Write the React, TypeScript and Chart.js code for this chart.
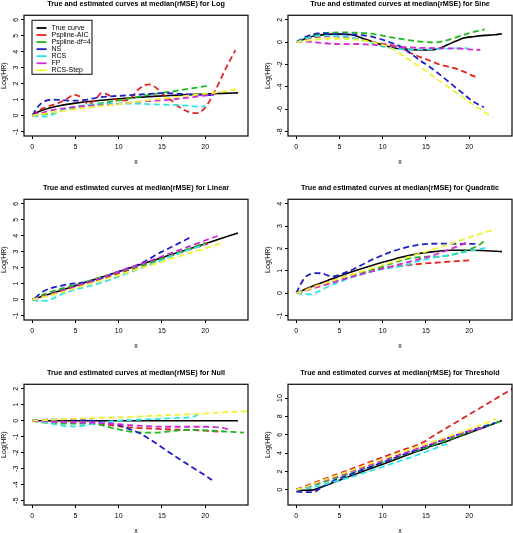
import React, { useEffect, useRef } from "react";
import { Chart, registerables } from "chart.js";

Chart.register(...registerables);

type Pt = [number, number];

const FONT = "'Liberation Sans', Arial, Helvetica, sans-serif";

const SERIES_LABELS = ["True curve", "Pspline-AIC", "Pspline-df=4", "NS", "RCS", "FP", "RCS-Step"];
const SERIES_COLORS = ["#000000", "#e32222", "#1fb81f", "#1f1fc4", "#2ee6e6", "#d22ad2", "#f2f230"];

const X_TICKS = [0, 5, 10, 15, 20];
const X_MIN = -0.96;
const X_MAX = 24.96;

const LOG_Y_TICKS = [-1, 0, 1, 2, 3, 4, 5, 6];
const SINE_Y_TICKS = [-8, -6, -4, -2, 0, 2];
const LINEAR_Y_TICKS = [-1, 0, 1, 2, 3, 4, 5, 6];
const QUAD_Y_TICKS = [-1, 0, 1, 2, 3, 4];
const NULL_Y_TICKS = [-5, -4, -3, -2, -1, 0, 1, 2];
const THRESH_Y_TICKS = [0, 2, 4, 6, 8, 10];

// ---------- Log ----------
const LOG_TRUE: Pt[] = [[0, 0], [0.5, 0.18], [1, 0.3], [2, 0.48], [3, 0.6], [4, 0.7], [5, 0.78], [6, 0.85], [8, 0.96], [10, 1.05], [12, 1.13], [14, 1.2], [16, 1.26], [18, 1.31], [20, 1.35], [22, 1.39], [23.8, 1.42]];
const LOG_PSAIC: Pt[] = [[0, 0], [1, 0.4], [2, 0.6], [3, 0.78], [4, 1.05], [4.8, 1.3], [5.5, 1.2], [6.5, 0.72], [7.3, 1.0], [8, 1.4], [8.8, 1.3], [9.6, 1.0], [10.5, 0.95], [11.3, 1.05], [12.2, 1.6], [13, 1.9], [13.6, 1.95], [14.3, 1.75], [15.1, 1.34], [16.1, 0.95], [17, 0.53], [18, 0.25], [19, 0.15], [20, 0.5], [21.2, 1.6], [22.3, 2.85], [23.5, 4.1]];
const LOG_PSDF4: Pt[] = [[0, 0], [1, 0.05], [2, 0.12], [3, 0.25], [4, 0.38], [5, 0.5], [6, 0.6], [8, 0.78], [10, 0.95], [12, 1.15], [13.6, 1.3], [15, 1.42], [17, 1.58], [19, 1.75], [20.6, 1.88]];
const LOG_NS: Pt[] = [[0, 0], [0.5, 0.45], [1, 0.75], [1.7, 0.95], [2.5, 1.0], [3.5, 0.97], [4.5, 0.93], [5.5, 0.93], [6.5, 1.02], [7.5, 1.13], [9, 1.2], [10.5, 1.25], [12, 1.3], [13.5, 1.35], [15, 1.4], [16.5, 1.38], [18, 1.33], [19.5, 1.3], [21, 1.28]];
const LOG_RCS: Pt[] = [[0, 0], [1, -0.05], [1.8, -0.05], [2.5, 0.1], [3.5, 0.35], [4.5, 0.5], [5.5, 0.6], [7, 0.68], [9, 0.74], [11, 0.75], [12.5, 0.74], [14, 0.7], [16, 0.67], [18, 0.62], [19.3, 0.55], [20, 0.6]];
const LOG_FP: Pt[] = [[0, 0], [1, 0.15], [2, 0.3], [3, 0.4], [4, 0.48], [5, 0.55], [7, 0.62], [9, 0.68], [11, 0.8], [12.5, 0.87], [14, 0.92], [16, 1.0], [18, 1.12], [20, 1.25], [21, 1.3]];
const LOG_STEP: Pt[] = [[0, 0], [1, 0.08], [2, 0.17], [3, 0.25], [4, 0.33], [5, 0.4], [6, 0.47], [8, 0.6], [10, 0.72], [12, 0.86], [14, 1.0], [16, 1.12], [18, 1.25], [20, 1.37], [22, 1.5], [23.9, 1.66]];

// ---------- Sine ----------
const SINE_TRUE: Pt[] = [[0, 0], [1, 0.3], [1.8, 0.5], [3, 0.65], [4.1, 0.72], [5.2, 0.72], [6.4, 0.66], [7.5, 0.4], [8.7, 0.06], [9.7, -0.18], [10.6, -0.39], [11.5, -0.55], [12.5, -0.63], [13.5, -0.67], [14.5, -0.69], [15.5, -0.7], [16.3, -0.62], [17.5, -0.24], [18.5, 0.1], [19.4, 0.36], [20.6, 0.5], [21.8, 0.6], [22.9, 0.66], [23.8, 0.75]];
const SINE_PSAIC: Pt[] = [[0, 0], [1, 0.25], [2, 0.42], [3, 0.5], [4, 0.52], [5, 0.5], [6, 0.42], [7, 0.3], [8, 0.15], [9, -0.02], [10, -0.15], [11.4, -0.35], [12.5, -0.7], [13.7, -1.14], [15.2, -1.58], [16.7, -2.03], [18.3, -2.33], [19.8, -2.78], [20.8, -3.14]];
const SINE_PSDF4: Pt[] = [[0, 0], [1, 0.4], [2, 0.65], [3, 0.8], [4, 0.85], [5, 0.87], [6, 0.86], [7, 0.84], [8, 0.8], [9, 0.72], [10, 0.58], [11, 0.42], [12, 0.3], [13, 0.18], [14, 0.08], [15, 0.0], [16, -0.03], [17, 0.08], [18, 0.3], [19, 0.55], [20, 0.8], [21, 1.0], [21.8, 1.15]];
const SINE_NS: Pt[] = [[0, 0], [0.8, 0.35], [1.6, 0.62], [2.5, 0.78], [3.5, 0.77], [4.5, 0.72], [5.5, 0.7], [6.5, 0.68], [7.5, 0.63], [8.5, 0.52], [9.5, 0.33], [10.6, 0.05], [11.5, -0.2], [12.2, -0.45], [13.2, -1.0], [14.5, -1.73], [15.5, -2.25], [16.4, -2.78], [17.4, -3.4], [18.3, -3.98], [19.3, -4.6], [20.2, -5.17], [21, -5.55], [21.7, -5.83]];
const SINE_RCS: Pt[] = [[0, 0], [1, 0.3], [2, 0.5], [3, 0.58], [4, 0.58], [5, 0.52], [6, 0.45], [7, 0.3], [8, 0.1], [9, -0.15], [10, -0.4], [11, -0.55], [12, -0.62], [13, -0.65], [14, -0.65], [15, -0.65], [16, -0.63], [17, -0.6], [18, -0.58], [19, -0.55], [19.8, -0.55]];
const SINE_FP: Pt[] = [[0, 0], [1, 0.05], [2, 0.0], [3, -0.08], [4, -0.15], [5, -0.18], [6, -0.18], [7, -0.17], [8, -0.2], [9, -0.25], [10, -0.3], [11, -0.36], [12, -0.42], [13, -0.47], [14, -0.5], [15, -0.52], [16, -0.54], [17, -0.55], [18, -0.56], [19, -0.58], [20, -0.65], [21.3, -0.7]];
const SINE_STEP: Pt[] = [[0, 0], [1, 0.1], [2, 0.2], [3, 0.28], [4, 0.3], [5, 0.3], [6, 0.28], [7, 0.2], [8, 0.1], [9, -0.05], [10, -0.25], [10.6, -0.39], [11.5, -0.8], [12.5, -1.29], [13.5, -1.8], [14.5, -2.33], [15.5, -2.85], [16.4, -3.38], [17.4, -3.9], [18.3, -4.42], [19.3, -4.95], [20.2, -5.47], [21.5, -6.1], [22.7, -6.73]];

// ---------- Linear ----------
const LIN_TRUE: Pt[] = [[0, 0], [4, 0.7], [8, 1.4], [12, 2.1], [16, 2.8], [20, 3.5], [23.8, 4.17]];
const LIN_PSAIC: Pt[] = [[0, 0], [2, 0.3], [4, 0.62], [6, 0.95], [8, 1.3], [10, 1.65], [12, 2.0], [14, 2.35], [16, 2.72], [18, 3.1], [20.3, 3.5]];
const LIN_PSDF4: Pt[] = [[0, 0], [1, 0.25], [2, 0.45], [3, 0.62], [4, 0.78], [5, 0.92], [6, 1.08], [7, 1.25], [8, 1.42], [10, 1.72], [12, 2.05], [14, 2.38], [16, 2.75], [18, 3.15], [20, 3.55]];
const LIN_NS: Pt[] = [[0.3, 0.1], [1.3, 0.52], [2.2, 0.72], [3.2, 0.85], [4.3, 0.97], [5.5, 1.04], [6.6, 1.12], [7.8, 1.28], [9, 1.55], [10.1, 1.77], [11.3, 2.0], [12.4, 2.23], [13.4, 2.5], [14.3, 2.8], [15.4, 3.1], [16.5, 3.4], [17.5, 3.67], [18.3, 3.9]];
const LIN_RCS: Pt[] = [[0, 0], [0.8, -0.08], [1.6, -0.08], [2.5, 0.1], [3.5, 0.35], [4.5, 0.55], [5.5, 0.7], [6.5, 0.83], [7.5, 0.98], [8.5, 1.15], [10, 1.45], [12, 1.85], [14, 2.25], [16, 2.7], [18, 3.1], [20, 3.45]];
const LIN_FP: Pt[] = [[0, 0], [2, 0.3], [4, 0.65], [6, 1.0], [8, 1.35], [10, 1.75], [12, 2.12], [14, 2.5], [16, 2.9], [18, 3.3], [20, 3.7], [21.8, 4.05]];
const LIN_STEP: Pt[] = [[0, 0], [2, 0.25], [4, 0.55], [6, 0.88], [8, 1.2], [10, 1.53], [12, 1.87], [14, 2.2], [16, 2.55], [18, 2.88], [20, 3.2], [22.1, 3.55]];

// ---------- Quadratic ----------
const QUAD_TRUE: Pt[] = [[0, 0], [2, 0.33], [4, 0.62], [6, 0.9], [8, 1.15], [10, 1.38], [12, 1.6], [14, 1.76], [16, 1.86], [18, 1.92], [20, 1.92], [22, 1.9], [23.8, 1.86]];
const QUAD_PSAIC: Pt[] = [[0, 0], [2, 0.3], [4, 0.55], [6, 0.78], [8, 0.98], [10, 1.12], [12, 1.22], [14, 1.3], [16, 1.36], [18, 1.42], [20.2, 1.47]];
const QUAD_PSDF4: Pt[] = [[0, 0], [2, 0.25], [4, 0.5], [6, 0.72], [8, 0.95], [10, 1.2], [12, 1.45], [13, 1.55], [14, 1.6], [15, 1.63], [16, 1.63], [17, 1.65], [18, 1.72], [19, 1.82], [20, 1.95], [21, 2.12], [21.9, 2.37]];
const QUAD_NS: Pt[] = [[0, 0], [0.5, 0.4], [1, 0.7], [1.6, 0.85], [2.2, 0.9], [3, 0.88], [3.6, 0.8], [4.1, 0.75], [4.8, 0.8], [5.5, 0.9], [6.5, 1.05], [7.5, 1.25], [8.5, 1.45], [9.5, 1.62], [10.5, 1.78], [11.5, 1.92], [12.5, 2.03], [13.5, 2.12], [14.5, 2.18], [15.5, 2.21], [16.5, 2.22], [17.5, 2.22], [18.5, 2.21], [19.5, 2.21], [21, 2.2]];
const QUAD_RCS: Pt[] = [[0, 0], [0.8, -0.03], [1.6, -0.05], [2.4, 0.05], [3.2, 0.2], [4, 0.35], [5, 0.5], [6, 0.65], [7, 0.78], [8, 0.9], [9, 1.0], [10, 1.08], [11, 1.13], [12, 1.2], [13, 1.3], [14, 1.42], [15, 1.52], [16, 1.6], [17, 1.66], [18, 1.72], [19, 1.8], [20, 1.88], [21, 1.95], [22.2, 2.05]];
const QUAD_FP: Pt[] = [[0, 0], [2, 0.22], [4, 0.45], [6, 0.68], [8, 0.9], [10, 1.1], [12, 1.3], [14, 1.5], [15, 1.6], [16, 1.72], [17, 1.85], [18, 2.0], [19, 2.15], [19.6, 2.25]];
const QUAD_STEP: Pt[] = [[0, 0], [1, 0.12], [2, 0.27], [3, 0.4], [4, 0.53], [5, 0.66], [6, 0.78], [7, 0.9], [8, 1.02], [9, 1.14], [10, 1.26], [11, 1.38], [12, 1.5], [13, 1.62], [14, 1.74], [15, 1.86], [16, 1.98], [17, 2.1], [18, 2.23], [19, 2.36], [20, 2.5], [21, 2.62], [22, 2.74], [23.1, 2.85]];

// ---------- Null ----------
const NULL_TRUE: Pt[] = [[0, 0], [8, 0], [16, 0], [23.8, 0]];
const NULL_PSAIC: Pt[] = [[0, 0], [2, -0.05], [4, -0.1], [6, -0.15], [8, -0.2], [10, -0.35], [12, -0.45], [14, -0.5], [16, -0.55], [18, -0.58], [20, -0.62], [21, -0.66], [22, -0.7]];
const NULL_PSDF4: Pt[] = [[0, 0], [1, -0.1], [2, -0.15], [3, -0.17], [4, -0.18], [5, -0.18], [6, -0.18], [7, -0.2], [8, -0.28], [9, -0.42], [10, -0.55], [11, -0.65], [12, -0.72], [13, -0.75], [14, -0.75], [15, -0.72], [16, -0.66], [17, -0.6], [18, -0.57], [19, -0.58], [20, -0.6], [21, -0.63], [22, -0.66], [23, -0.7], [24.5, -0.75]];
const NULL_NS: Pt[] = [[0, 0], [1, 0.05], [3, 0.07], [5, 0.05], [7, 0.0], [8, -0.06], [9, -0.15], [10, -0.27], [11, -0.48], [12.4, -0.78], [13.7, -1.2], [15.1, -1.71], [16.4, -2.18], [17.7, -2.64], [19.2, -3.15], [20.8, -3.71]];
const NULL_RCS: Pt[] = [[0, 0], [1, -0.05], [2, -0.15], [3, -0.27], [4, -0.35], [5, -0.35], [6, -0.3], [7, -0.2], [8, -0.12], [9, -0.05], [10, 0.0], [11, 0.03], [12, 0.06], [13, 0.08], [14, 0.1], [15, 0.12], [16, 0.15], [17, 0.18], [18, 0.2], [18.8, 0.28], [19.3, 0.42]];
const NULL_FP: Pt[] = [[0, 0], [2, -0.05], [4, -0.1], [6, -0.12], [8, -0.15], [10, -0.22], [12, -0.3], [14, -0.36], [16, -0.38], [18, -0.38], [20, -0.38], [21, -0.4], [22, -0.45], [22.8, -0.55]];
const NULL_STEP: Pt[] = [[0, 0], [2, 0.05], [4, 0.1], [6, 0.14], [8, 0.18], [10, 0.21], [12, 0.25], [14, 0.3], [16, 0.35], [18, 0.4], [20, 0.45], [22, 0.52], [24, 0.57], [25.5, 0.6]];

// ---------- Threshold ----------
const THR_TRUE: Pt[] = [[0, -0.05], [1, -0.05], [2, 0.0], [3, 0.35], [4, 0.7], [5, 1.05], [6, 1.4], [8, 2.1], [10, 2.8], [12, 3.5], [14, 4.2], [15, 4.5], [15.5, 4.75], [16, 4.85], [17, 5.15], [18, 5.5], [20, 6.2], [22, 6.9], [23.8, 7.55]];
const THR_PSAIC: Pt[] = [[0, 0.05], [2, 0.75], [4, 1.45], [6, 2.15], [8, 2.85], [10, 3.55], [12, 4.25], [14.5, 5.1], [16, 5.97], [18, 7.09], [20, 8.21], [22, 9.33], [24, 10.45], [25, 11.0]];
const THR_PSDF4: Pt[] = [[0, 0], [2, 0.5], [4, 1.1], [6, 1.7], [8, 2.35], [10, 3.0], [12, 3.65], [14, 4.3], [16, 4.95], [18, 5.6], [20, 6.3], [22, 6.95], [23.6, 7.45]];
const THR_NS: Pt[] = [[0, -0.2], [1, -0.25], [2, -0.25], [2.5, 0.0], [3, 0.3], [4, 0.85], [5, 1.25], [6, 1.6], [8, 2.3], [10, 3.0], [12, 3.7], [14, 4.4], [16, 5.1], [18, 5.8], [20, 6.4], [22, 7.0], [23, 7.3]];
const THR_RCS: Pt[] = [[0, 0], [2, 0.3], [4, 0.8], [6, 1.3], [8, 1.9], [10, 2.5], [12, 3.15], [14, 3.8], [16, 4.5], [17.9, 5.2]];
const THR_FP: Pt[] = [[0, 0], [2, 0.6], [4, 1.25], [6, 1.9], [8, 2.55], [10, 3.2], [12, 3.85], [14, 4.5], [16, 5.15], [18, 5.8], [20, 6.4], [21.7, 6.75]];
const THR_STEP: Pt[] = [[0, 0], [1, 0.3], [2, 0.65], [4, 1.35], [6, 2.0], [8, 2.7], [10, 3.35], [12, 4.05], [14, 4.7], [16, 5.3], [18, 5.95], [20, 6.6], [22, 7.3], [23.1, 7.75]];

interface PanelCfg {
  title: string;
  series: Pt[][];
  yMin: number;
  yMax: number;
  yTicks: number[];
  left: number;
  top: number;
  width: number;
  height: number;
  padRight: number;
  legend: boolean;
  yPad: number;
}

const PANELS: PanelCfg[] = [
  { title: "True and estimated curves at median(rMSE) for Log", series: [LOG_TRUE, LOG_PSAIC, LOG_PSDF4, LOG_NS, LOG_RCS, LOG_FP, LOG_STEP], yMin: -1.28, yMax: 6.28, yTicks: LOG_Y_TICKS, left: 0, top: 0, width: 256, height: 184, padRight: 8, legend: true, yPad: 1.9 },
  { title: "True and estimated curves at median(rMSE) for Sine", series: [SINE_TRUE, SINE_PSAIC, SINE_PSDF4, SINE_NS, SINE_RCS, SINE_FP, SINE_STEP], yMin: -8.4, yMax: 2.4, yTicks: SINE_Y_TICKS, left: 264, top: 0, width: 249, height: 184, padRight: 1, legend: false, yPad: 1.9 },
  { title: "True and estimated curves at median(rMSE) for Linear", series: [LIN_TRUE, LIN_PSAIC, LIN_PSDF4, LIN_NS, LIN_RCS, LIN_FP, LIN_STEP], yMin: -1.28, yMax: 6.28, yTicks: LINEAR_Y_TICKS, left: 0, top: 184, width: 256, height: 185, padRight: 8, legend: false, yPad: 1.9 },
  { title: "True and estimated curves at median(rMSE) for Quadratic", series: [QUAD_TRUE, QUAD_PSAIC, QUAD_PSDF4, QUAD_NS, QUAD_RCS, QUAD_FP, QUAD_STEP], yMin: -1.2, yMax: 4.2, yTicks: QUAD_Y_TICKS, left: 264, top: 184, width: 249, height: 185, padRight: 1, legend: false, yPad: 1.9 },
  { title: "True and estimated curves at median(rMSE) for Null", series: [NULL_TRUE, NULL_PSAIC, NULL_PSDF4, NULL_NS, NULL_RCS, NULL_FP, NULL_STEP], yMin: -5.28, yMax: 2.28, yTicks: NULL_Y_TICKS, left: 0, top: 369, width: 256, height: 164, padRight: 8, legend: false, yPad: 1.9 },
  { title: "True and estimated curves at median(rMSE) for Threshold", series: [THR_TRUE, THR_PSAIC, THR_PSDF4, THR_NS, THR_RCS, THR_FP, THR_STEP], yMin: -1.65, yMax: 11.5, yTicks: THRESH_Y_TICKS, left: 264, top: 369, width: 249, height: 164, padRight: 1, legend: false, yPad: 1.1 },
];

const framePlugin = {
  id: "rframe",
  afterDraw(chart: any) {
    const { ctx, chartArea: a } = chart;
    ctx.save();
    ctx.strokeStyle = "#1a1a1a";
    ctx.lineWidth = 1.3;
    ctx.strokeRect(a.left, a.top, a.right - a.left, a.bottom - a.top);
    ctx.restore();
  },
};

const legendPlugin = {
  id: "rlegend",
  afterDraw(chart: any) {
    const { ctx, chartArea: a } = chart;
    const x0 = a.left + 8;
    const y0 = a.top + 5;
    const w = 60;
    const h = 54;
    ctx.save();
    ctx.fillStyle = "#ffffff";
    ctx.fillRect(x0, y0, w, h);
    ctx.strokeStyle = "#1a1a1a";
    ctx.lineWidth = 1.1;
    ctx.strokeRect(x0, y0, w, h);
    ctx.font = `7px ${FONT}`;
    ctx.textBaseline = "middle";
    ctx.textAlign = "left";
    chart.data.datasets.forEach((ds: any, i: number) => {
      const y = y0 + 7.7 + i * 7.05;
      ctx.strokeStyle = ds.borderColor;
      ctx.lineWidth = 1.8;
      ctx.setLineDash([]);
      ctx.beginPath();
      ctx.moveTo(x0 + 4.5, y);
      ctx.lineTo(x0 + 14.5, y);
      ctx.stroke();
      ctx.fillStyle = "#000";
      ctx.fillText(ds.label, x0 + 19.5, y);
    });
    ctx.restore();
  },
};

function Panel({ cfg }: { cfg: PanelCfg }) {
  const ref = useRef<HTMLCanvasElement>(null);
  useEffect(() => {
    const canvas = ref.current;
    if (!canvas) return;
    const axisH = cfg.height - 136;
    const xTitleBottom = cfg.height - 4.2 - 162.3;
    const chart = new Chart(canvas, {
      type: "line",
      data: {
        datasets: cfg.series.map((pts, i) => ({
          label: SERIES_LABELS[i],
          data: pts.map(([x, y]) => ({ x, y })),
          borderColor: SERIES_COLORS[i],
          backgroundColor: SERIES_COLORS[i],
          borderWidth: i === 0 ? 1.6 : 1.8,
          borderDash: i === 0 ? [] : [6, 3.5],
          pointRadius: 0,
          pointHoverRadius: 0,
          cubicInterpolationMode: "monotone" as const,
          fill: false,
          order: 6 - i,
        })),
      },
      options: {
        responsive: false,
        animation: false,
        devicePixelRatio: 1,
        events: [],
        layout: { padding: { left: 0, right: cfg.padRight, top: 0, bottom: 0 } },
        plugins: {
          legend: { display: false },
          tooltip: { enabled: false },
          title: {
            display: true,
            text: cfg.title,
            fullSize: false,
            color: "#000",
            font: { family: FONT, size: 7.25, weight: "bold", lineHeight: 1.2 },
            padding: { top: 0, bottom: 6.6 },
          },
        },
        scales: {
          x: {
            type: "linear",
            min: X_MIN,
            max: X_MAX,
            afterBuildTicks: (s: any) => {
              s.ticks = X_TICKS.map((v) => ({ value: v }));
            },
            afterFit: (s: any) => {
              s.height = axisH;
            },
            border: { display: false },
            grid: { display: true, drawOnChartArea: false, drawTicks: true, tickLength: 3, color: "#000", lineWidth: 1 },
            ticks: { color: "#000", font: { family: FONT, size: 7 }, padding: 4, autoSkip: false, maxRotation: 0, minRotation: 0 },
            title: { display: true, text: "x", color: "#000", font: { family: FONT, size: 7, lineHeight: 1.2 }, padding: { top: 0, bottom: xTitleBottom } },
          },
          y: {
            type: "linear",
            min: cfg.yMin,
            max: cfg.yMax,
            afterBuildTicks: (s: any) => {
              s.ticks = cfg.yTicks.map((v) => ({ value: v }));
            },
            afterFit: (s: any) => {
              s.width = 24;
            },
            border: { display: false },
            grid: { display: true, drawOnChartArea: false, drawTicks: true, tickLength: 3, color: "#000", lineWidth: 1 },
            ticks: { color: "#000", font: { family: FONT, size: 7 }, padding: cfg.yPad, autoSkip: false, minRotation: 90, maxRotation: 90, crossAlign: "center" },
            title: { display: true, text: "Log(HR)", color: "#000", font: { family: FONT, size: 7, lineHeight: 1.2 }, padding: { top: 0, bottom: 0 } },
          },
        },
      } as any,
      plugins: cfg.legend ? [framePlugin, legendPlugin] : [framePlugin],
    });
    return () => chart.destroy();
  }, [cfg]);
  return (
    <canvas
      ref={ref}
      width={cfg.width}
      height={cfg.height}
      style={{ position: "absolute", left: cfg.left, top: cfg.top, width: cfg.width, height: cfg.height }}
    />
  );
}

export default function App() {
  return (
    <div style={{ position: "absolute", left: 0, top: 0, width: 513, height: 533, background: "#fff", overflow: "hidden" }}>
      {PANELS.map((p, i) => (
        <Panel key={i} cfg={p} />
      ))}
    </div>
  );
}
